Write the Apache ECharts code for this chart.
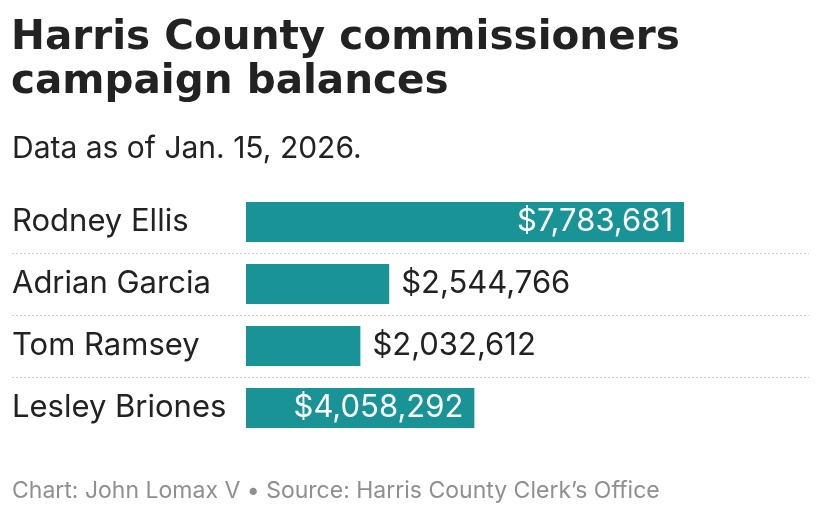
<!DOCTYPE html>
<html>
<head>
<meta charset="utf-8">
<script src="https://cdn.jsdelivr.net/npm/echarts@6/dist/echarts.min.js"></script>
<style>
html,body{margin:0;padding:0;background:#fff;}
#chart{width:820px;height:518px;}
</style>
</head>
<body>
<div id="chart"></div>
<script>
const titleText = 'Harris County commissioners\ncampaign balances';
const subtitleText = 'Data as of Jan. 15, 2026.';
const footerText = 'Chart: John Lomax V \u2022 Source: Harris County Clerk\u2019s Office';
const categories = ['Rodney Ellis', 'Adrian Garcia', 'Tom Ramsey', 'Lesley Briones'];
const balances = [7783681, 2544766, 2032612, 4058292];

const TEAL = '#1a9396';
const FONT = 'Inter, Roboto, sans-serif';
const TITLE_FONT = '"DejaVu Sans", Inter, sans-serif';
const fmt = v => '$' + v.toLocaleString('en-US');
const maxVal = Math.max(...balances);

const seriesData = balances.map(v => {
  const inside = v / maxVal > 0.45;
  return {
    value: v,
    label: inside
      ? { position: 'insideRight', color: '#ffffff', distance: 11 }
      : { position: 'right', color: '#222222', distance: 12 }
  };
});

const chart = echarts.init(document.getElementById('chart'), null, {renderer: 'canvas'});
chart.setOption({
  backgroundColor: '#ffffff',
  animation: false,
  title: [
    { text: titleText, left: 11, top: 16, padding: 0,
      textStyle: { fontFamily: TITLE_FONT, fontWeight: 700, fontSize: 40.5, lineHeight: 44, color: '#222222' } },
    { text: subtitleText, left: 12, top: 131, padding: 0,
      textStyle: { fontFamily: FONT, fontWeight: 400, fontSize: 30, lineHeight: 36, color: '#222222' } },
    { text: footerText, left: 12, top: 477, padding: 0,
      textStyle: { fontFamily: FONT, fontWeight: 400, fontSize: 23, lineHeight: 28, color: '#8f8f8f' } }
  ],
  grid: [
    { left: 246, right: 136, top: 191, bottom: 79, containLabel: false },
    { left: 12, right: 11, top: 191, bottom: 79, containLabel: false }
  ],
  xAxis: [
    { type: 'value', gridIndex: 0, min: 0, max: maxVal, show: false },
    { type: 'value', gridIndex: 1, min: 0, max: 1, show: false }
  ],
  yAxis: [
    { type: 'category', gridIndex: 0, data: categories, inverse: true,
      axisLine: { show: false }, axisTick: { show: false }, splitLine: { show: false },
      axisLabel: { align: 'left', margin: 234, fontFamily: FONT, fontSize: 31, color: '#222222' } },
    { type: 'category', gridIndex: 1, data: categories, inverse: true,
      axisLine: { show: false }, axisTick: { show: false }, axisLabel: { show: false },
      splitLine: { show: true, showMinLine: false, showMaxLine: false,
        lineStyle: { color: '#cccccc', width: 1, type: [2, 2] } } }
  ],
  series: [
    { type: 'bar', xAxisIndex: 0, yAxisIndex: 0, data: seriesData,
      barWidth: 40, itemStyle: { color: TEAL },
      label: { show: true, formatter: p => fmt(p.value), fontFamily: FONT, fontSize: 31 } }
  ]
});
</script>
</body>
</html>
